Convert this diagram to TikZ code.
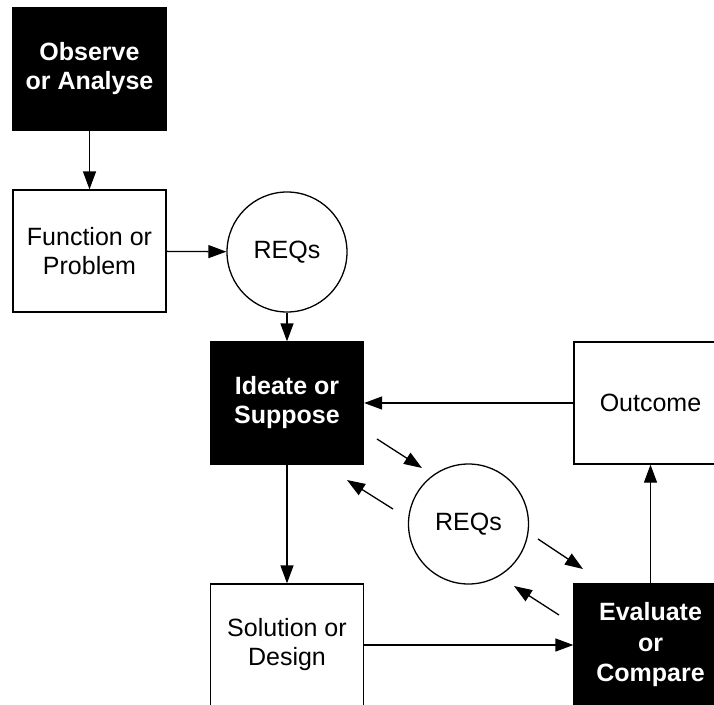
\documentclass[tikz,border=0pt]{standalone}
\usepackage{fontspec}
\setmainfont{Liberation Sans}
\usetikzlibrary{arrows.meta}
\begin{document}
\begin{tikzpicture}[x=1pt,y=-1pt,
  every node/.style={font=\fontsize{25}{29}\selectfont, align=center, inner sep=0pt},
  darkbox/.style={rectangle, draw=black, fill=black, text=white, font=\fontsize{25}{29}\selectfont\bfseries,
    minimum width=153pt, minimum height=122pt, line width=1.3pt},
  lightbox/.style={rectangle, draw=black, fill=white, minimum width=153pt, minimum height=122pt, line width=1.3pt},
  reqcircle/.style={circle, draw=black, minimum size=120pt, line width=1.3pt},
  flow/.style={line width=1.3pt, -{Triangle[length=18pt,width=13pt]}}]
  \clip (0,0) rectangle (714,704);
  \fill[white] (0,0) rectangle (714,704);

  % stages
  \node[darkbox] (observe) at (89.5,69) {Observe\\or Analyse};
  \node[lightbox] (function) at (89.5,251) {Function or\\Problem};
  \node[reqcircle] (req1) at (287,252) {REQs};
  \node[darkbox] (ideate) at (287,403) {Ideate or\\Suppose};
  \node[lightbox] (outcome) at (650.5,403) {Outcome};
  \node[reqcircle] (req2) at (468.5,524) {REQs};
  \node[lightbox] (solution) at (287,645) {Solution or\\Design};
  \node[darkbox, font=\fontsize{25}{30.5}\selectfont\bfseries] (evaluate) at (650.5,645) {Evaluate\\or\\Compare};

  % exchange with the requirements circle
  \coordinate (d1s) at (377,439);
  \coordinate (d1e) at (422,468);
  \coordinate (d2s) at (393,509);
  \coordinate (d2e) at (347,480);
  \coordinate (d3s) at (538,539);
  \coordinate (d3e) at (583,569);
  \coordinate (d4s) at (559,615);
  \coordinate (d4e) at (514,586);

  % connectors
  \draw[flow] (observe) -- (function);
  \draw[flow] (function) -- (req1);
  \draw[flow] (req1) -- (ideate);
  \draw[flow] (outcome.west) -- (ideate.east |- outcome.west);
  \draw[flow] (ideate) -- (solution);
  \draw[flow] (solution) -- (evaluate);
  \draw[flow] (evaluate) -- (outcome);
  \draw[flow] (d1s) -- (d1e);
  \draw[flow] (d2s) -- (d2e);
  \draw[flow] (d3s) -- (d3e);
  \draw[flow] (d4s) -- (d4e);
\end{tikzpicture}
\end{document}
